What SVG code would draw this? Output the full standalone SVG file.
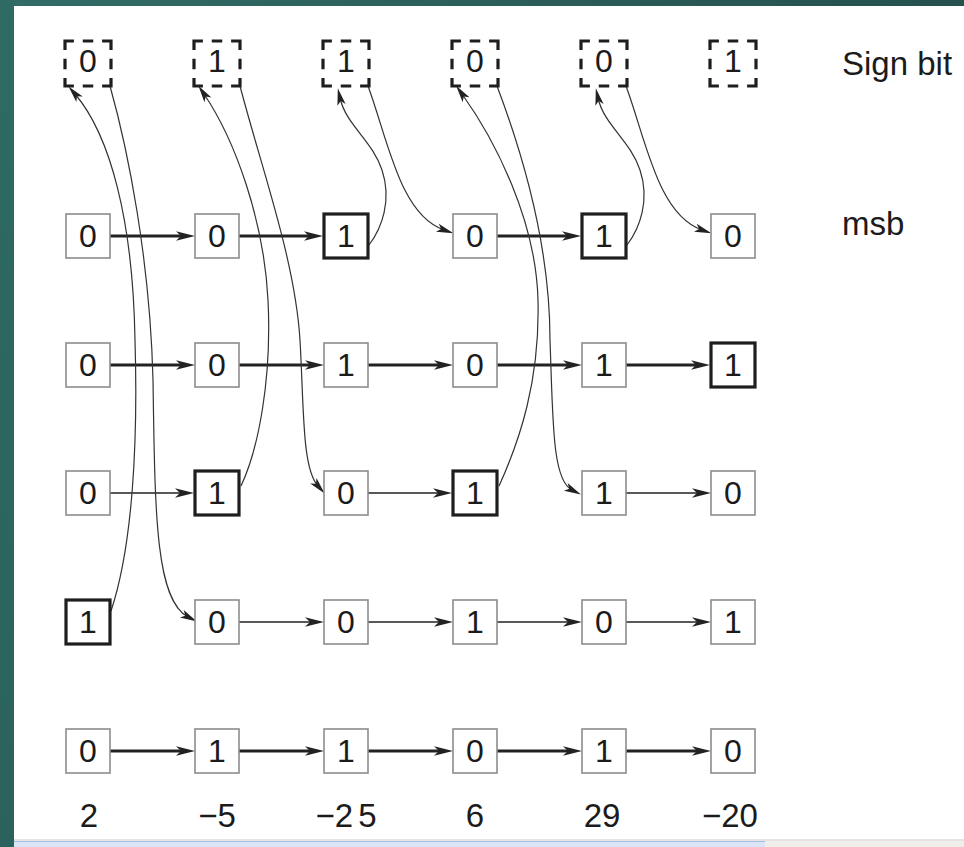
<svg xmlns="http://www.w3.org/2000/svg" width="964" height="847" viewBox="0 0 964 847">
  <defs>
    <linearGradient id="frameTop" x1="0" y1="0" x2="1" y2="0">
      <stop offset="0" stop-color="#326c66"/>
      <stop offset="1" stop-color="#25504d"/>
    </linearGradient>
    <linearGradient id="frameLeft" x1="0" y1="0" x2="0" y2="1">
      <stop offset="0" stop-color="#2f6a64"/>
      <stop offset="1" stop-color="#2b625d"/>
    </linearGradient>
    <!-- arrowhead: tip sits 10px beyond the end of the line -->
    <marker id="ah" viewBox="-12 -7 24 14" refX="0" refY="0" markerWidth="24" markerHeight="14" markerUnits="userSpaceOnUse" orient="auto">
      <path d="M10,0 L-9,-4.8 L-4,0 L-9,4.8 Z" fill="#222"/>
    </marker>
    <marker id="ahc" viewBox="-12 -7 24 14" refX="0" refY="0" markerWidth="24" markerHeight="14" markerUnits="userSpaceOnUse" orient="auto">
      <path d="M10,0 L-7,-4.2 L-3,0 L-7,4.2 Z" fill="#222"/>
    </marker>
    <style>
      .box { fill: #fff; stroke: #8c8c8c; stroke-width: 1.6; }
      .bold { fill: #fff; stroke: #1e1e1e; stroke-width: 3.2; }
      .sign { fill: none; stroke: #1e1e1e; stroke-width: 3.2; stroke-linecap: square; stroke-dasharray: 7.3 12.05; }
      .d { font-family: "Liberation Sans", Arial, sans-serif; font-size: 32px; fill: #1b1b1b; text-anchor: middle; }
      .lbl { font-family: "Liberation Sans", Arial, sans-serif; font-size: 33px; fill: #1b1b1b; }
      .num { font-family: "Liberation Sans", Arial, sans-serif; font-size: 33px; fill: #1b1b1b; text-anchor: middle; }
      .hk { fill: none; stroke: #222; stroke-width: 3; marker-end: url(#ah); }
      .hn { fill: none; stroke: #222; stroke-width: 1.6; marker-end: url(#ah); }
      .cv { fill: none; stroke: #333; stroke-width: 1.2; marker-end: url(#ahc); }
    </style>
  </defs>

  <!-- page and window frame -->
  <rect x="0" y="0" width="964" height="847" fill="#fff"/>
  <rect x="0" y="0" width="964" height="6" fill="url(#frameTop)"/>
  <rect x="0" y="0" width="14" height="847" fill="url(#frameLeft)"/>
  <rect x="14" y="839" width="950" height="2" fill="#e4e4e4"/>
  <rect x="14" y="841" width="751" height="6" fill="#dbe5f8"/>
  <line x1="14" y1="841.5" x2="765" y2="841.5" stroke="#a9bde3" stroke-width="1"/>
  <rect x="765" y="841" width="199" height="6" fill="#efeeea"/>

  <!-- connectors -->
  <g id="connectors">
    <!-- msb row -->
    <path class="hk" d="M110,236 H185"/>
    <path class="hk" d="M239,236 H313"/>
    <path class="hk" d="M497,236 H571"/>
    <!-- row 3 -->
    <path class="hk" d="M110,365 H185"/>
    <path class="hk" d="M239,365 H314"/>
    <path class="hk" d="M368,365 H443"/>
    <path class="hk" d="M497,365 H572"/>
    <path class="hk" d="M626,365 H700"/>
    <!-- row 4 -->
    <path class="hn" d="M110,493 H184"/>
    <path class="hn" d="M368,493 H442"/>
    <path class="hn" d="M626,493 H701"/>
    <!-- row 5 -->
    <path class="hn" d="M239,622 H314"/>
    <path class="hn" d="M368,622 H443"/>
    <path class="hn" d="M497,622 H572"/>
    <path class="hn" d="M626,622 H701"/>
    <!-- row 6 -->
    <path class="hk" d="M110,751 H185"/>
    <path class="hk" d="M239,751 H314"/>
    <path class="hk" d="M368,751 H443"/>
    <path class="hk" d="M497,751 H572"/>
    <path class="hk" d="M626,751 H701"/>
    <!-- sign-bit links -->
    <path class="cv" d="M111,611 C133,545 138,440 135,340 C133,220 110,135 75,94"/>
    <path class="cv" d="M110,86 C128,150 150,260 153,380 C155,510 155,600 188,617"/>
    <path class="cv" d="M241,486 C258,450 272,380 268,300 C264,220 235,140 204,94"/>
    <path class="cv" d="M240,86 C262,170 295,260 300,340 C304,410 302,468 318,486"/>
    <path class="cv" d="M369,245 C382,228 392,200 382,170 C372,140 346,125 340,98"/>
    <path class="cv" d="M368,86 C388,140 400,215 444,230"/>
    <path class="cv" d="M499,486 C520,440 540,380 538,300 C536,220 495,140 462,94"/>
    <path class="cv" d="M497,86 C525,160 550,250 550,340 C553,420 552,480 572,490"/>
    <path class="cv" d="M627,245 C640,228 650,200 640,170 C630,140 604,125 598,98"/>
    <path class="cv" d="M626,86 C646,140 658,215 702,230"/>
  </g>

  <!-- sign-bit row -->
  <g id="s1"><path class="sign" d="M65,41h46M65,41v45M111,41v45M65,86h46"/><text class="d" x="88" y="72">0</text></g>
  <g id="s2"><path class="sign" d="M194,41h46M194,41v45M240,41v45M194,86h46"/><text class="d" x="217" y="72">1</text></g>
  <g id="s3"><path class="sign" d="M323,41h46M323,41v45M369,41v45M323,86h46"/><text class="d" x="346" y="72">1</text></g>
  <g id="s4"><path class="sign" d="M452,41h46M452,41v45M498,41v45M452,86h46"/><text class="d" x="475" y="72">0</text></g>
  <g id="s5"><path class="sign" d="M581,41h46M581,41v45M627,41v45M581,86h46"/><text class="d" x="604" y="72">0</text></g>
  <g id="s6"><path class="sign" d="M710,41h46M710,41v45M756,41v45M710,86h46"/><text class="d" x="733" y="72">1</text></g>

  <!-- msb row -->
  <g id="r1c1"><rect class="box" x="66" y="214" width="44" height="44"/><text class="d" x="88" y="247">0</text></g>
  <g id="r1c2"><rect class="box" x="195" y="214" width="44" height="44"/><text class="d" x="217" y="247">0</text></g>
  <g id="r1c3"><rect class="bold" x="324" y="214" width="44" height="44"/><text class="d" x="346" y="247">1</text></g>
  <g id="r1c4"><rect class="box" x="453" y="214" width="44" height="44"/><text class="d" x="475" y="247">0</text></g>
  <g id="r1c5"><rect class="bold" x="582" y="214" width="44" height="44"/><text class="d" x="604" y="247">1</text></g>
  <g id="r1c6"><rect class="box" x="711" y="214" width="44" height="44"/><text class="d" x="733" y="247">0</text></g>

  <!-- row 3 -->
  <g id="r2c1"><rect class="box" x="66" y="343" width="44" height="44"/><text class="d" x="88" y="376">0</text></g>
  <g id="r2c2"><rect class="box" x="195" y="343" width="44" height="44"/><text class="d" x="217" y="376">0</text></g>
  <g id="r2c3"><rect class="box" x="324" y="343" width="44" height="44"/><text class="d" x="346" y="376">1</text></g>
  <g id="r2c4"><rect class="box" x="453" y="343" width="44" height="44"/><text class="d" x="475" y="376">0</text></g>
  <g id="r2c5"><rect class="box" x="582" y="343" width="44" height="44"/><text class="d" x="604" y="376">1</text></g>
  <g id="r2c6"><rect class="bold" x="711" y="343" width="44" height="44"/><text class="d" x="733" y="376">1</text></g>

  <!-- row 4 -->
  <g id="r3c1"><rect class="box" x="66" y="471" width="44" height="44"/><text class="d" x="88" y="504">0</text></g>
  <g id="r3c2"><rect class="bold" x="195" y="471" width="44" height="44"/><text class="d" x="217" y="504">1</text></g>
  <g id="r3c3"><rect class="box" x="324" y="471" width="44" height="44"/><text class="d" x="346" y="504">0</text></g>
  <g id="r3c4"><rect class="bold" x="453" y="471" width="44" height="44"/><text class="d" x="475" y="504">1</text></g>
  <g id="r3c5"><rect class="box" x="582" y="471" width="44" height="44"/><text class="d" x="604" y="504">1</text></g>
  <g id="r3c6"><rect class="box" x="711" y="471" width="44" height="44"/><text class="d" x="733" y="504">0</text></g>

  <!-- row 5 -->
  <g id="r4c1"><rect class="bold" x="66" y="600" width="44" height="44"/><text class="d" x="88" y="633">1</text></g>
  <g id="r4c2"><rect class="box" x="195" y="600" width="44" height="44"/><text class="d" x="217" y="633">0</text></g>
  <g id="r4c3"><rect class="box" x="324" y="600" width="44" height="44"/><text class="d" x="346" y="633">0</text></g>
  <g id="r4c4"><rect class="box" x="453" y="600" width="44" height="44"/><text class="d" x="475" y="633">1</text></g>
  <g id="r4c5"><rect class="box" x="582" y="600" width="44" height="44"/><text class="d" x="604" y="633">0</text></g>
  <g id="r4c6"><rect class="box" x="711" y="600" width="44" height="44"/><text class="d" x="733" y="633">1</text></g>

  <!-- row 6 -->
  <g id="r5c1"><rect class="box" x="66" y="729" width="44" height="44"/><text class="d" x="88" y="762">0</text></g>
  <g id="r5c2"><rect class="box" x="195" y="729" width="44" height="44"/><text class="d" x="217" y="762">1</text></g>
  <g id="r5c3"><rect class="box" x="324" y="729" width="44" height="44"/><text class="d" x="346" y="762">1</text></g>
  <g id="r5c4"><rect class="box" x="453" y="729" width="44" height="44"/><text class="d" x="475" y="762">0</text></g>
  <g id="r5c5"><rect class="box" x="582" y="729" width="44" height="44"/><text class="d" x="604" y="762">1</text></g>
  <g id="r5c6"><rect class="box" x="711" y="729" width="44" height="44"/><text class="d" x="733" y="762">0</text></g>

  <!-- row captions -->
  <g id="captions">
    <text class="lbl" x="842" y="75">Sign bit</text>
    <text class="lbl" x="842" y="235">msb</text>
  </g>

  <!-- decimal values of the columns -->
  <g id="values">
    <text class="num" x="89" y="827">2</text>
    <text class="num" x="217" y="827">−5</text>
    <text class="num" x="346" y="827">−2<tspan dx="5">5</tspan></text>
    <text class="num" x="475" y="827">6</text>
    <text class="num" x="602" y="827">29</text>
    <text class="num" x="730" y="827">−20</text>
  </g>
</svg>
